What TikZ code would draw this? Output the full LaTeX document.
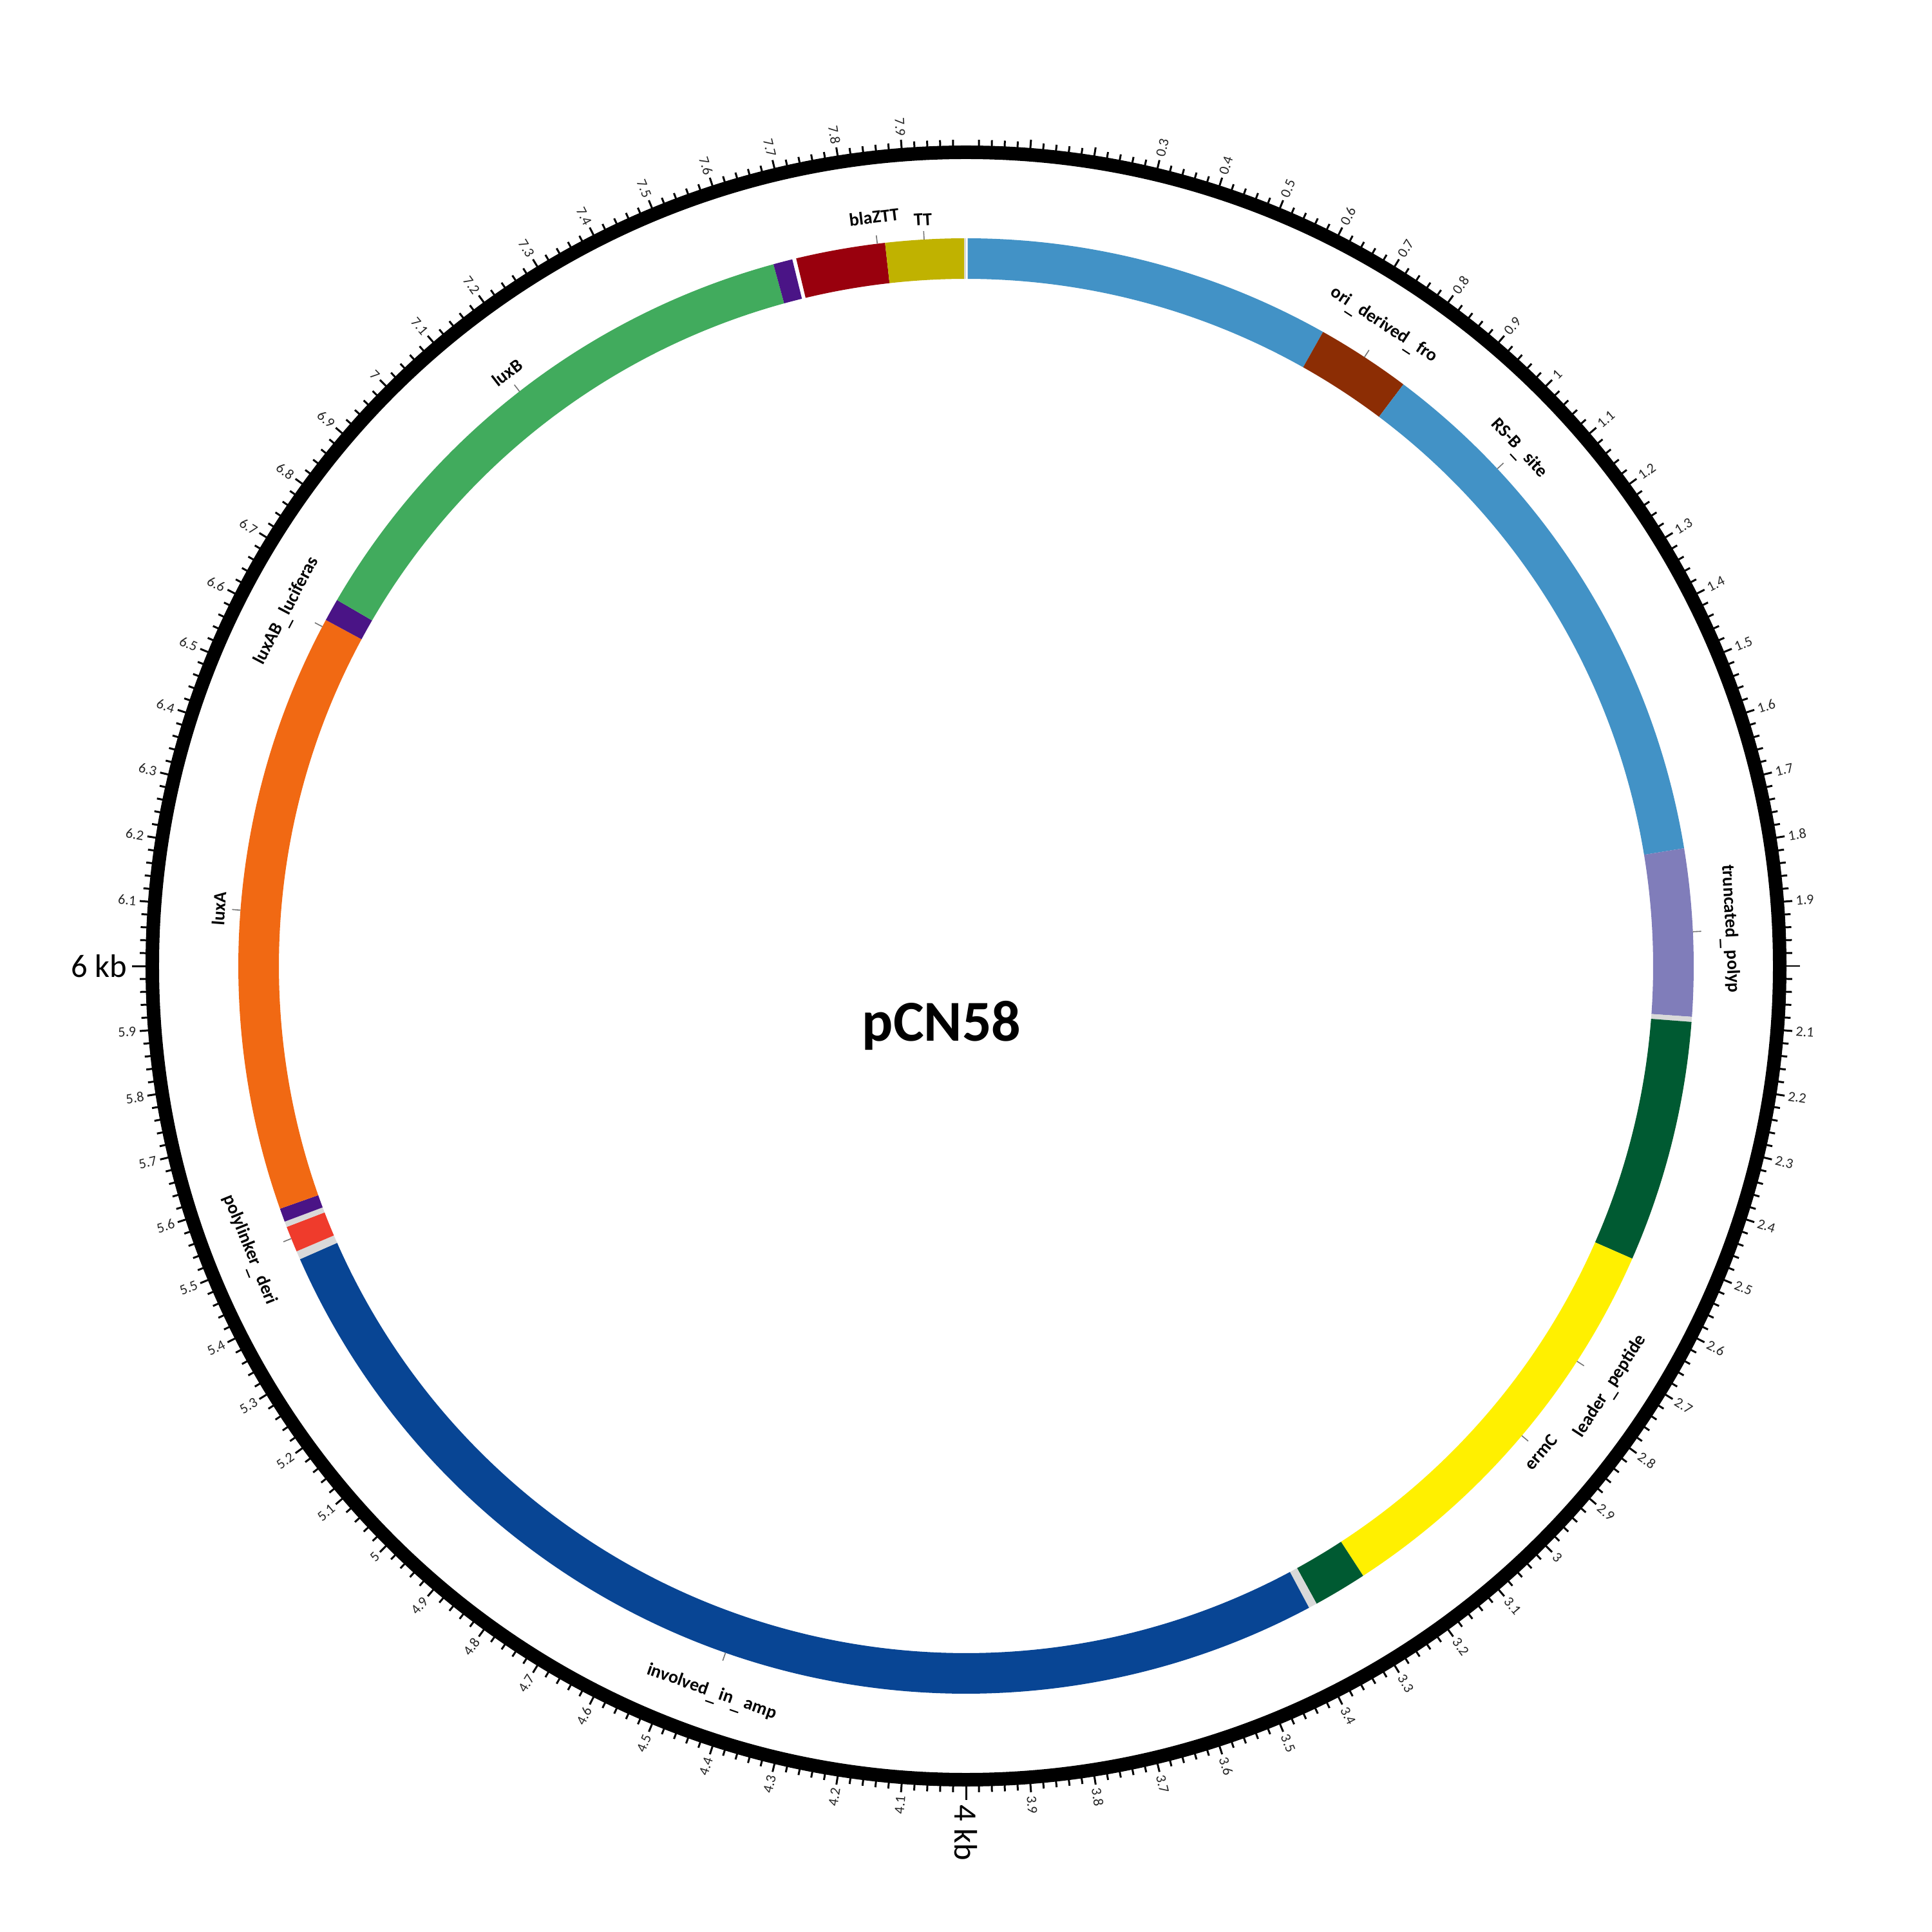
\documentclass[tikz,border=0pt]{standalone}
\usepackage{fontspec}
\setmainfont{Carlito}
\definecolor{cLBlue}{HTML}{4292C6}
\definecolor{cBrown}{HTML}{8C2D04}
\definecolor{cLav}{HTML}{807DBA}
\definecolor{cDGreen}{HTML}{005A32}
\definecolor{cYellow}{HTML}{FFF000}
\definecolor{cDBlue}{HTML}{084594}
\definecolor{cGrey}{HTML}{D9D9D9}
\definecolor{cRed}{HTML}{EF3B2C}
\definecolor{cPurple}{HTML}{4A1486}
\definecolor{cOrange}{HTML}{F16913}
\definecolor{cGreen}{HTML}{41AB5D}
\definecolor{cDRed}{HTML}{99000D}
\definecolor{cOlive}{HTML}{C0B200}
\newcommand{\featseg}[3]{%
  \fill[#3] ({90-45*#1}:10.67) arc[start angle={90-45*#1}, end angle={90-45*#2}, radius=10.67]
    -- ({90-45*#2}:11.30) arc[start angle={90-45*#2}, end angle={90-45*#1}, radius=11.30] -- cycle;}
\newcommand{\lowus}{\kern0.06em\raisebox{-0.22em}{\_}\kern0.12em}
\newcommand{\flabel}[6]{%
  \draw[leader] ({90-#2}:11.30) -- ({90-#2}:11.43);
  \node[featlab, rotate=#5] (#1) at ({90-#3}:#4) {#6};}
\begin{document}
\begin{tikzpicture}[
  tickline/.style={line width=0.85pt, black},
  ticklab/.style={inner sep=0pt, font=\fontsize{6.3}{7.5}\selectfont, text=black!85},
  biglab/.style={inner sep=0pt, font=\fontsize{14.4}{17}\selectfont},
  featlab/.style={inner sep=0pt, anchor=center, font=\fontsize{8}{9.6}\selectfont\bfseries},
  leader/.style={line width=0.45pt, draw=black!55},
]
\useasboundingbox (-15,-15) rectangle (15,15);
\fill[white] (-15,-15) rectangle (15,15);
% feature ring
\featseg{0.003}{0.653}{cLBlue}
\featseg{0.653}{0.821}{cBrown}
\featseg{0.821}{1.793}{cLBlue}
\featseg{1.793}{2.089}{cLav}
\featseg{2.089}{2.098}{cGrey}
\featseg{2.098}{2.527}{cDGreen}
\featseg{2.527}{3.265}{cYellow}
\featseg{3.265}{3.360}{cDGreen}
\featseg{3.360}{3.375}{cGrey}
\featseg{3.375}{5.472}{cDBlue}
\featseg{5.472}{5.487}{cGrey}
\featseg{5.487}{5.533}{cRed}
\featseg{5.533}{5.543}{cGrey}
\featseg{5.543}{5.567}{cPurple}
\featseg{5.567}{6.631}{cOrange}
\featseg{6.631}{6.671}{cPurple}
\featseg{6.671}{7.659}{cGreen}
\featseg{7.659}{7.693}{cPurple}
\featseg{7.700}{7.858}{cDRed}
\featseg{7.858}{7.997}{cOlive}
\featseg{7.997}{8.000}{cGrey}
% outer ring
\draw[line width=0.21cm] (0,0) circle[radius=12.635];
% ticks
\foreach \i in {1,...,399}{%
  \pgfmathtruncatemacro{\mfive}{mod(\i,5)}%
  \pgfmathtruncatemacro{\mhund}{mod(\i,100)}%
  \pgfmathsetmacro{\ang}{90-0.9*\i}%
  \ifnum\mhund=0 \def\tl{0.21}\else\ifnum\mfive=0 \def\tl{0.13}\else\def\tl{0.09}\fi\fi
  \draw[tickline] ({\ang}:12.72) -- ({\ang}:{12.74+\tl});
}
% tick labels
\foreach \i in {15,20,...,395}{%
  \pgfmathtruncatemacro{\mhund}{mod(\i,100)}%
  \ifnum\mhund=0\relax\else
    \pgfmathtruncatemacro{\ip}{floor(\i/50)}%
    \pgfmathtruncatemacro{\dd}{mod(\i,50)/5}%
    \ifnum\dd=0 \edef\txt{\ip}\else\edef\txt{\ip.\dd}\fi
    \pgfmathsetmacro{\tha}{0.9*\i}%
    \ifdim\tha pt<180pt
      \node[ticklab, anchor=west, rotate={90-\tha}] (tk\i) at ({90-\tha}:12.92) {\txt};
    \else
      \node[ticklab, anchor=east, rotate={270-\tha}] (tk\i) at ({90-\tha}:12.92) {\txt};
    \fi
  \fi
}
\node[biglab, anchor=west, rotate=-90] (kb4) at (-90:13.02) {4 kb};
\node[biglab, anchor=east] (kb6) at (180:13.02) {6 kb};
% feature labels
\flabel{lTT}{356.7}{356.7}{11.61}{3.3}{TT}
\flabel{lbla}{353.0}{353.0}{11.72}{7}{blaZTT}
\flabel{lori}{33.2}{33.1}{11.86}{-33.2}{ori\lowus derived\lowus fro}
\flabel{lrsb}{46.9}{46.9}{11.74}{-46.9}{RS-B\lowus site}
\flabel{ltrunc}{87.3}{87.2}{11.86}{-87.2}{truncated\lowus polyp}
\flabel{llead}{122.9}{123.1}{11.97}{57}{leader\lowus peptide}
\flabel{lerm}{130.2}{130.2}{11.69}{49.8}{ermC}
\flabel{linv}{199.3}{199.3}{11.97}{-19.3}{involved\lowus in\lowus amp}
\flabel{lpoly}{248.0}{248.4}{11.99}{-68}{polylinker\lowus deri}
\flabel{lluxA}{274.4}{274.4}{11.63}{85.6}{luxA}
\flabel{lluxAB}{297.8}{297.6}{11.88}{62.2}{luxAB\lowus luciferas}
\flabel{lluxB}{322.15}{322.3}{11.65}{37.7}{luxB}
% title
\node[anchor=base, inner sep=0pt, font=\fontsize{25.6}{30}\selectfont\bfseries] (title) at (-0.38,-1.17) {pCN58};
\end{tikzpicture}
\end{document}
